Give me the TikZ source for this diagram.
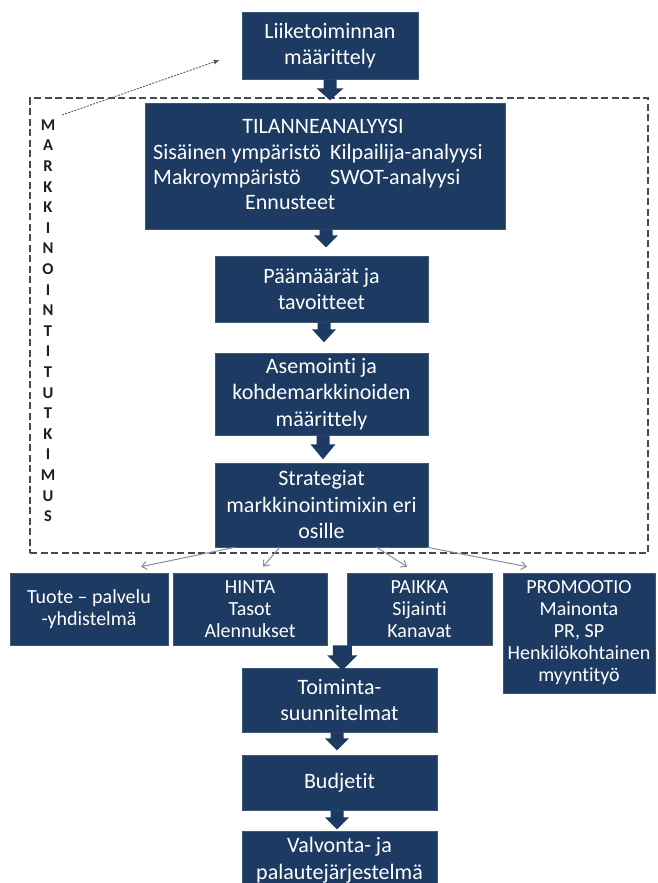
\documentclass[tikz,border=0pt]{standalone}
\usepackage{fontspec}
\setmainfont{Carlito}[Ligatures=NoCommon]
\usetikzlibrary{arrows.meta,calc}
\definecolor{boxblue}{HTML}{1C3A62}
\definecolor{dashgray}{HTML}{3F4C5C}
\definecolor{fangray}{HTML}{8A8F96}
\definecolor{lettergray}{HTML}{1E1E1E}
\begin{document}
\begin{tikzpicture}[x=1pt,y=-1pt,
  box/.style={fill=boxblue, draw=boxblue!85!white, line width=0.6pt, text=white,
    inner sep=0pt, align=center, font=\fontsize{22}{26.5}\selectfont},
  smallbox/.style={box, font=\fontsize{20}{22}\selectfont},
  boxtext/.style={text=white, inner sep=0pt, font=\fontsize{22}{26.5}\selectfont},
  fan/.style={draw=fangray, line width=1pt, -{Straight Barb[length=5pt,width=8pt]}},
  pics/blockdown/.style args={#1/#2/#3/#4}{code={
    \fill[boxblue] (-#3,0) -- (-#3,#1) -- (-#4,#1) -- (0,#1+#2) -- (#4,#1)
      -- (#3,#1) -- (#3,0) -- cycle;}},
]
\useasboundingbox (0,0) rectangle (658,883);
\fill[white] (0,0) rectangle (658,883);

% dashed frame around the research loop
\node[draw=dashgray, line width=2.2pt, dash pattern=on 7pt off 3.5pt,
  minimum width=618pt, minimum height=455pt, inner sep=0pt] (frame) at (339,325.5) {};

% vertical label
\node[text=lettergray, inner sep=0pt, align=center,
  font=\fontsize{16.5}{20.6}\selectfont\bfseries] (mt) at (48,320.7)
  {M\\A\\R\\K\\K\\I\\N\\O\\I\\N\\T\\I\\T\\U\\T\\K\\I\\M\\U\\S};

% main chain
\node[box, minimum width=176pt, minimum height=67pt] (liike) at (330,45.5)
  {Liiketoiminnan\\määrittely};

\node[box, minimum width=360pt, minimum height=126pt] (tilanne) at (325,166) {};
\node[boxtext, anchor=mid] (t1) at (323,131) {TILANNEANALYYSI};
\node[boxtext, anchor=mid west] (t2a) at (153,157) {Sisäinen ympäristö};
\node[boxtext, anchor=mid west] (t2b) at (330,157) {Kilpailija-analyysi};
\node[boxtext, anchor=mid west] (t3a) at (153,182) {Makroympäristö};
\node[boxtext, anchor=mid west] (t3b) at (330,182) {SWOT-analyysi};
\node[boxtext, anchor=mid west] (t4) at (245,207) {Ennusteet};

\node[box, minimum width=213pt, minimum height=66pt] (paam) at (321.5,289)
  {Päämäärät ja\\tavoitteet};
\node[box, minimum width=213pt, minimum height=82pt] (asem) at (321.5,394)
  {Asemointi ja\\kohdemarkkinoiden\\määrittely};
\node[box, minimum width=213pt, minimum height=84pt] (strat) at (321.5,505)
  {Strategiat\\markkinointimixin eri\\osille};

% marketing mix
\node[smallbox, minimum width=158pt, minimum height=72pt] (tuote) at (89,609)
  {Tuote – palvelu\\-yhdistelmä};
\node[smallbox, minimum width=154pt, minimum height=72pt] (hinta) at (250,609)
  {HINTA\\Tasot\\Alennukset};
\node[smallbox, minimum width=145pt, minimum height=72pt] (paikka) at (419.5,609)
  {PAIKKA\\Sijainti\\Kanavat};
\node[smallbox, minimum width=152pt, minimum height=120pt] (promo) at (579,633)
  {PROMOOTIO\\Mainonta\\PR, SP\\Henkilökohtainen\\myyntityö};

% implementation chain
\node[box, minimum width=195pt, minimum height=64pt] (toim) at (339.5,700)
  {Toiminta-\\suunnitelmat};
\node[box, minimum width=195pt, minimum height=55pt] (budj) at (339.5,782.5)
  {Budjetit};
\node[box, minimum width=195pt, minimum height=58pt] (valv) at (339.5,860)
  {Valvonta- ja\\palautejärjestelmä};

% block arrows
\pic at (liike.south) {blockdown=9/12/6.5/13.5};
\pic at ($(tilanne.south)+(1,0)$) {blockdown=6/12/6.5/12};
\pic at ($(paam.south)+(2.5,0)$) {blockdown=7/13/6.5/12};
\pic at ($(asem.south)+(1.5,0)$) {blockdown=9/15/6.5/12.5};
\pic at ($(hinta.south east)+(15,0)$) {blockdown=10/15/9.5/15};
\pic at ($(toim.south)+(-2.5,0)$) {blockdown=6/12/6.5/12};
\pic at ($(budj.south)+(-2.5,0)$) {blockdown=7/12/6.5/12};

% fan-out to the mix
\draw[fan] ($(strat.south west)+(20,0)$) -- ($(tuote.north)+(52,-6)$);
\draw[fan] ($(strat.south west)+(65,0)$) -- ($(hinta.north)+(13,-6)$);
\draw[fan] ($(strat.south west)+(162,0)$) -- ($(paikka.north)+(-12.5,-6)$);
\draw[fan] ($(strat.south east)+(-1,0)$) -- ($(promo.north)+(-52,-6)$);

% feedback from research to business definition
\coordinate (dstart) at (62,115);
\draw[draw=black!65, line width=0.9pt, dash pattern=on 2pt off 1.3pt,
  -{Latex[length=6pt,width=5pt]}] (dstart) -- ($(liike.west)+(-22,14.5)$);
\end{tikzpicture}
\end{document}
